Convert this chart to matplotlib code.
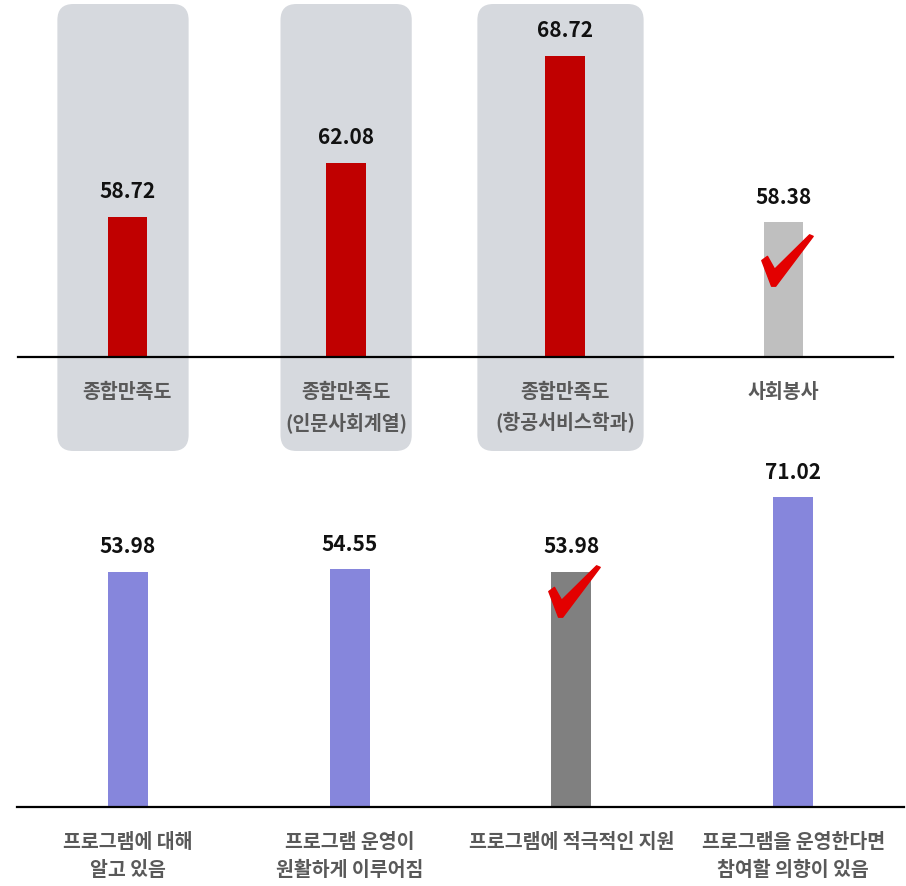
import matplotlib.pyplot as plt
from matplotlib.patches import FancyBboxPatch
from matplotlib.path import Path
from matplotlib.transforms import offset_copy

plt.rcParams['font.family'] = ['Noto Sans CJK KR', 'DejaVu Sans']

top_labels = ['종합만족도', '종합만족도\n(인문사회계열)', '종합만족도\n(항공서비스학과)', '사회봉사']
top_values = [58.72, 62.08, 68.72, 58.38]
top_colors = ['#C00000', '#C00000', '#C00000', '#BFBFBF']
top_boxed = [0.30, 0.30, 0.38]  # half widths of grey boxes, first three groups
box_shift = [-0.02, 0.0, -0.02]

bottom_labels = ['프로그램에 대해\n알고 있음', '프로그램 운영이\n원활하게 이루어짐',
                 '프로그램에 적극적인 지원', '프로그램을 운영한다면\n참여할 의향이 있음']
bottom_values = [53.98, 54.55, 53.98, 71.02]
bottom_colors = ['#8686DC', '#8686DC', '#808080', '#8686DC']

W, H = 906, 887
fig = plt.figure(figsize=(W / 100, H / 100), dpi=100)

bg = fig.add_axes([0, 0, 1, 1], zorder=-1)
bg.set_xlim(0, W)
bg.set_ylim(0, H)
bg.axis('off')

ax1 = fig.add_axes([18 / W, (H - 358) / H, 875 / W, 358 / H])
ax2 = fig.add_axes([17 / W, (H - 808) / H, 887 / W, 343 / H])
ax1.patch.set_alpha(0)
ax2.patch.set_alpha(0)

# brush-style check mark, centred on 0
pts = [(0.00, 0.50), (0.11, 0.58), (0.25, 0.33), (0.93, 1.00), (1.00, 0.97),
       (0.27, 0.00), (0.19, 0.00), (0.00, 0.50)]
check = Path([(px - 0.5, py - 0.5) for px, py in pts],
             [Path.MOVETO] + [Path.LINETO] * 6 + [Path.CLOSEPOLY])


def draw(ax, labels, values, colors, ymin, ymax, check_idx, check_dy):
    x = range(len(values))
    ax.bar(x, [v - ymin for v in values], bottom=ymin, width=0.18, color=colors)
    for i, v in enumerate(values):
        ax.annotate(f'{v:.2f}', (i, v), xytext=(0, 14), textcoords='offset points',
                    ha='center', va='baseline', fontsize=15, fontweight='black', color='#111111')
    ax.set_xlim(-0.5, 3.5)
    ax.set_ylim(ymin, ymax)
    ax.set_xticks(list(x))
    ax.set_xticklabels(labels, fontsize=14, fontweight='black', color='#595959', linespacing=1.6)
    ax.tick_params(axis='x', length=0, pad=18)
    ax.set_yticks([])
    for s in ['top', 'left', 'right']:
        ax.spines[s].set_visible(False)
    ax.spines['bottom'].set_linewidth(1.6)
    ax.spines['bottom'].set_color('black')
    tr = offset_copy(ax.transData, fig=fig, x=3, y=check_dy, units='dots')
    ax.plot([check_idx], [values[check_idx]], marker=check, markersize=37,
            color='#E30000', transform=tr, clip_on=False, zorder=5)


draw(ax1, top_labels, top_values, top_colors, 50, 50 + 358 / 16.1, 3, -38)
draw(ax2, bottom_labels, bottom_values, bottom_colors, 0, 343 / 4.36, 2, -19)

# grey rounded boxes behind the first three top groups
for i, hw in enumerate(top_boxed):
    c = i + box_shift[i]
    x0 = ax1.transData.transform((c - hw, 0))[0]
    x1 = ax1.transData.transform((c + hw, 0))[0]
    bg.add_patch(FancyBboxPatch((x0, H - 452), x1 - x0, 447,
                                boxstyle='round,pad=0,rounding_size=16',
                                facecolor='#D6D9DE', edgecolor='none'))

fig.savefig('out.png', dpi=100)
